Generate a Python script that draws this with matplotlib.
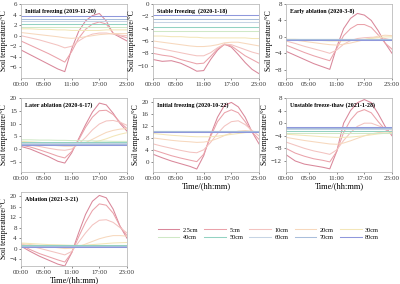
import matplotlib
matplotlib.use("Agg")
import matplotlib.pyplot as plt

plt.rcParams["font.family"] = ["Liberation Serif", "DejaVu Serif"]

hours = [0, 2, 4, 6, 8, 9.5, 11, 12.5, 14, 15.5, 17, 18.5, 20, 21.5, 23]
depths = ["2.5cm", "5cm", "10cm", "20cm", "30cm", "40cm", "50cm", "60cm", "70cm", "80cm"]
colors = ["#d9879a", "#eaa2aa", "#f3c3c0", "#f7d8bd", "#f3e6b8",
          "#cfe8c6", "#93d2c2", "#c6d4e4", "#a9bedb", "#8f98dc"]

titles = ["Initial freezing (2019-11-20)", "Stable freezing  (2020-1-18)",
          "Early ablation (2020-3-8)", "Later ablation (2020-6-17)",
          "Initial freezing (2020-10-22)", "Unstable freeze-thaw (2021-1-28)",
          "Ablation (2021-3-21)"]

init_freeze_2019 = [
    [-2.7, -3.6, -4.5, -5.4, -6.3, -6.8, -2.5, 0.8, 2.8, 3.8, 4.2, 2.8, 0.4, -0.3, -1.0],
    [-1.0, -1.8, -2.6, -3.4, -4.3, -5.0, -3.0, -0.5, 1.2, 2.2, 2.6, 2.2, 0.5, 0.0, -0.4],
    [0.0, -0.4, -0.8, -1.3, -1.8, -2.3, -2.0, -1.0, -0.2, 0.3, 0.5, 0.5, 0.3, 0.1, 0.0],
    [0.6, 0.4, 0.2, 0.0, -0.2, -0.4, -0.5, -0.4, -0.2, 0.0, 0.2, 0.3, 0.4, 0.4, 0.4],
    [1.3, 1.3, 1.2, 1.2, 1.1, 1.1, 1.0, 1.0, 1.0, 1.0, 1.0, 1.1, 1.1, 1.1, 1.1],
    [1.7, 1.7, 1.7, 1.7, 1.7, 1.7, 1.7, 1.7, 1.7, 1.7, 1.7, 1.7, 1.7, 1.7, 1.7],
    [2.3, 2.3, 2.3, 2.3, 2.3, 2.3, 2.3, 2.3, 2.3, 2.3, 2.3, 2.3, 2.3, 2.3, 2.3],
    [2.7, 2.7, 2.7, 2.7, 2.7, 2.7, 2.7, 2.7, 2.7, 2.7, 2.7, 2.7, 2.7, 2.7, 2.7],
    [3.2, 3.2, 3.2, 3.2, 3.2, 3.2, 3.2, 3.2, 3.2, 3.2, 3.2, 3.2, 3.2, 3.2, 3.2],
    [3.8, 3.8, 3.8, 3.8, 3.8, 3.8, 3.8, 3.8, 3.8, 3.8, 3.8, 3.8, 3.8, 3.8, 3.8],
]
stable_freeze_2020 = [
    [-9.0, -9.3, -9.2, -9.6, -10.3, -10.9, -10.8, -9.0, -7.5, -6.5, -7.0, -8.2, -9.5, -10.6, -11.3],
    [-8.0, -8.3, -8.5, -9.0, -9.4, -9.7, -9.6, -8.5, -7.3, -6.6, -6.8, -7.6, -8.4, -9.0, -9.6],
    [-7.0, -7.3, -7.6, -7.9, -8.2, -8.4, -8.4, -7.9, -7.1, -6.5, -6.6, -7.0, -7.4, -7.8, -8.1],
    [-6.0, -6.2, -6.4, -6.6, -6.8, -6.9, -6.9, -6.8, -6.6, -6.3, -6.2, -6.2, -6.4, -6.6, -6.8],
    [-5.2, -5.2, -5.3, -5.3, -5.4, -5.4, -5.5, -5.5, -5.5, -5.5, -5.5, -5.5, -5.5, -5.6, -5.6],
    [-4.4, -4.4, -4.4, -4.4, -4.4, -4.4, -4.4, -4.4, -4.4, -4.4, -4.4, -4.4, -4.4, -4.4, -4.4],
    [-3.7, -3.7, -3.7, -3.7, -3.7, -3.7, -3.7, -3.7, -3.7, -3.7, -3.7, -3.7, -3.7, -3.7, -3.7],
    [-3.0, -3.0, -3.0, -3.0, -3.0, -3.0, -3.0, -3.0, -3.0, -3.0, -3.0, -3.0, -3.0, -3.0, -3.0],
    [-2.4, -2.4, -2.4, -2.4, -2.4, -2.4, -2.4, -2.4, -2.4, -2.4, -2.4, -2.4, -2.4, -2.4, -2.4],
    [-1.8, -1.8, -1.8, -1.8, -1.8, -1.8, -1.8, -1.8, -1.8, -1.8, -1.8, -1.8, -1.8, -1.8, -1.8],
]
early_ablation_2020 = [
    [-3.5, -4.5, -5.5, -6.5, -7.3, -7.9, -2.5, 2.0, 4.5, 5.7, 5.3, 4.0, 1.5, -1.5, -4.0],
    [-2.0, -2.9, -3.8, -4.6, -5.3, -5.8, -2.8, 0.3, 2.0, 3.0, 3.0, 2.3, 0.5, -1.5, -3.0],
    [-1.0, -1.6, -2.3, -2.9, -3.5, -4.0, -3.2, -1.8, -0.9, -0.4, -0.2, -0.1, -0.1, -0.4, -0.8],
    [-0.6, -0.8, -1.1, -1.4, -1.7, -1.9, -2.0, -1.8, -1.5, -1.1, -0.7, -0.3, 0.2, 0.4, 0.3],
    [-0.6, -0.6, -0.7, -0.8, -0.9, -1.0, -1.0, -1.0, -0.9, -0.8, -0.6, -0.4, -0.2, 0.0, 0.0],
    [-0.5, -0.5, -0.5, -0.5, -0.5, -0.5, -0.5, -0.5, -0.5, -0.5, -0.5, -0.5, -0.5, -0.5, -0.5],
    [-0.55, -0.55, -0.55, -0.55, -0.55, -0.55, -0.55, -0.55, -0.55, -0.55, -0.55, -0.55, -0.55, -0.55, -0.55],
    [-0.6, -0.6, -0.6, -0.6, -0.6, -0.6, -0.6, -0.6, -0.6, -0.6, -0.6, -0.6, -0.6, -0.6, -0.6],
    [-0.6, -0.6, -0.6, -0.6, -0.6, -0.6, -0.6, -0.6, -0.6, -0.6, -0.6, -0.6, -0.6, -0.6, -0.6],
    [-0.65, -0.65, -0.65, -0.65, -0.65, -0.65, -0.65, -0.65, -0.65, -0.65, -0.65, -0.65, -0.65, -0.65, -0.65],
]
later_ablation_2020 = [
    [1.0, 0.0, -1.5, -3.0, -4.8, -5.5, -1.5, 4.0, 9.5, 14.5, 18.0, 17.3, 14.0, 10.0, 7.0],
    [1.5, 0.8, -0.3, -1.5, -2.8, -3.5, -1.0, 3.5, 8.5, 12.5, 15.0, 15.2, 13.5, 10.5, 8.0],
    [2.0, 1.5, 1.0, 0.3, -0.3, -0.5, 0.0, 2.0, 4.5, 7.5, 9.8, 11.0, 11.2, 10.5, 9.3],
    [2.5, 2.2, 1.9, 1.6, 1.3, 1.1, 1.1, 1.5, 2.5, 3.8, 5.2, 6.5, 7.3, 7.8, 8.0],
    [3.0, 2.8, 2.6, 2.4, 2.2, 2.1, 2.0, 2.0, 2.2, 2.6, 3.2, 4.0, 5.0, 5.8, 6.4],
    [3.6, 3.6, 3.5, 3.5, 3.4, 3.4, 3.3, 3.3, 3.2, 3.2, 3.1, 3.1, 3.0, 3.0, 3.0],
    [2.6, 2.6, 2.6, 2.6, 2.6, 2.6, 2.6, 2.6, 2.6, 2.6, 2.6, 2.6, 2.6, 2.6, 2.6],
    [2.3, 2.3, 2.3, 2.3, 2.3, 2.3, 2.3, 2.3, 2.3, 2.3, 2.3, 2.3, 2.3, 2.3, 2.3],
    [2.0, 2.0, 2.0, 2.0, 2.0, 2.0, 2.0, 2.0, 2.0, 2.0, 2.0, 2.0, 2.0, 2.0, 2.0],
    [1.7, 1.7, 1.7, 1.7, 1.7, 1.7, 1.7, 1.7, 1.7, 1.7, 1.7, 1.7, 1.7, 1.7, 1.7],
]
init_freeze_2020 = [
    [2.5, 1.3, 0.2, -0.7, -1.6, -2.5, 2.0, 9.0, 15.0, 19.0, 20.0, 18.5, 15.0, 10.0, 6.0],
    [4.0, 3.0, 2.0, 1.2, 0.5, 0.0, 2.5, 8.5, 13.5, 16.5, 17.5, 16.5, 13.5, 10.0, 7.5],
    [6.0, 5.2, 4.5, 3.8, 3.2, 3.0, 4.0, 6.5, 9.5, 12.0, 13.5, 13.8, 12.5, 10.5, 8.7],
    [8.0, 7.6, 7.2, 6.9, 6.7, 6.5, 6.6, 7.0, 7.8, 8.8, 9.7, 10.3, 10.5, 10.3, 10.0],
    [9.5, 9.2, 8.9, 8.7, 8.5, 8.4, 8.4, 8.4, 8.6, 8.9, 9.2, 9.5, 9.8, 10.0, 10.0],
    [10.5, 10.5, 10.5, 10.5, 10.5, 10.5, 10.5, 10.5, 10.5, 10.5, 10.5, 10.5, 10.5, 10.5, 10.5],
    [10.3, 10.3, 10.3, 10.3, 10.3, 10.3, 10.3, 10.3, 10.3, 10.3, 10.3, 10.3, 10.3, 10.3, 10.3],
    [10.2, 10.2, 10.2, 10.2, 10.2, 10.2, 10.2, 10.2, 10.2, 10.2, 10.2, 10.2, 10.2, 10.2, 10.2],
    [10.4, 10.4, 10.4, 10.4, 10.4, 10.4, 10.4, 10.4, 10.4, 10.4, 10.4, 10.4, 10.4, 10.4, 10.4],
    [10.1, 10.1, 10.1, 10.1, 10.1, 10.1, 10.1, 10.1, 10.1, 10.1, 10.1, 10.1, 10.1, 10.1, 10.1],
]
unstable_2021 = [
    [-10.0, -12.0, -13.0, -13.5, -14.0, -14.5, -9.0, 0.0, 4.0, 6.5, 7.5, 6.5, 3.0, -1.0, -4.0],
    [-8.0, -9.5, -10.5, -11.3, -11.8, -12.3, -9.0, -3.0, 1.0, 3.5, 4.3, 3.3, 0.5, -2.0, -3.2],
    [-6.0, -7.0, -8.0, -8.8, -9.4, -9.9, -8.5, -5.5, -3.0, -1.0, 0.0, 0.0, -0.8, -1.6, -2.2],
    [-4.5, -5.0, -5.5, -5.9, -6.3, -6.6, -6.7, -6.3, -5.6, -4.8, -4.0, -3.4, -3.0, -2.8, -2.7],
    [-3.5, -3.7, -3.9, -4.1, -4.3, -4.4, -4.5, -4.5, -4.4, -4.2, -4.0, -3.7, -3.4, -3.2, -3.0],
    [-3.0, -3.0, -3.0, -3.0, -3.0, -3.0, -3.0, -3.0, -3.0, -3.0, -3.0, -3.0, -3.0, -3.0, -3.0],
    [-2.5, -2.5, -2.5, -2.5, -2.5, -2.5, -2.5, -2.5, -2.5, -2.5, -2.5, -2.5, -2.5, -2.5, -2.5],
    [-2.0, -2.0, -2.0, -2.0, -2.0, -2.0, -2.0, -2.0, -2.0, -2.0, -2.0, -2.0, -2.0, -2.0, -2.0],
    [-1.6, -1.6, -1.6, -1.6, -1.6, -1.6, -1.6, -1.6, -1.6, -1.6, -1.6, -1.6, -1.6, -1.6, -1.6],
    [-1.2, -1.2, -1.2, -1.2, -1.2, -1.2, -1.2, -1.2, -1.2, -1.2, -1.2, -1.2, -1.2, -1.2, -1.2],
]
ablation_2021 = [
    [1.0, -1.0, -2.8, -4.3, -5.8, -6.5, -1.5, 6.0, 13.0, 18.0, 20.2, 19.3, 15.0, 8.5, 4.0],
    [1.5, -0.3, -1.8, -3.0, -4.2, -5.0, -1.5, 4.5, 10.0, 14.5, 17.0, 16.5, 13.5, 8.5, 5.0],
    [1.8, 1.0, 0.2, -0.7, -1.6, -2.3, -1.0, 2.5, 6.0, 9.0, 10.8, 11.0, 10.0, 8.0, 6.0],
    [2.0, 1.6, 1.2, 0.8, 0.4, 0.1, 0.2, 0.8, 1.8, 2.8, 3.8, 4.5, 5.0, 5.0, 4.8],
    [2.2, 2.0, 1.8, 1.6, 1.5, 1.4, 1.3, 1.3, 1.4, 1.6, 1.8, 2.0, 2.2, 2.3, 2.4],
    [1.5, 1.5, 1.5, 1.5, 1.5, 1.5, 1.5, 1.5, 1.5, 1.5, 1.5, 1.5, 1.5, 1.5, 1.5],
    [1.3, 1.3, 1.3, 1.3, 1.3, 1.3, 1.3, 1.3, 1.3, 1.3, 1.3, 1.3, 1.3, 1.3, 1.3],
    [1.1, 1.1, 1.1, 1.1, 1.1, 1.1, 1.1, 1.1, 1.1, 1.1, 1.1, 1.1, 1.1, 1.1, 1.1],
    [0.9, 0.9, 0.9, 0.9, 0.9, 0.9, 0.9, 0.9, 0.9, 0.9, 0.9, 0.9, 0.9, 0.9, 0.9],
    [0.8, 0.8, 0.8, 0.8, 0.8, 0.8, 0.8, 0.8, 0.8, 0.8, 0.8, 0.8, 0.8, 0.8, 0.8],
]

x_ticks = [0, 5, 11, 17, 23]
x_labels = ["00:00", "05:00", "11:00", "17:00", "23:00"]

panels = [
    (init_freeze_2019, [-6, -4, -2, 0, 2, 4, 6], (-8, 6)),
    (stable_freeze_2020, [-10, -8, -6, -4, -2, 0], (-12, 0)),
    (early_ablation_2020, [-8, -4, 0, 4, 8], (-10, 8)),
    (later_ablation_2020, [-5, 0, 5, 10, 15, 20], (-9, 20)),
    (init_freeze_2020, [0, 4, 8, 12, 16, 20], (-3.5, 21.5)),
    (unstable_2021, [-12, -8, -4, 0, 4, 8], (-15.5, 8)),
    (ablation_2021, [-4, 0, 4, 8, 12, 16, 20], (-6.5, 21.5)),
]

fig = plt.figure(figsize=(4.0, 2.84), dpi=100)

lefts = [0.0525, 0.3825, 0.715]
bottoms = [0.7254, 0.3944, 0.0634]
W, H = 0.265, 0.2606

line_handles = None
for i, (data, yt, yl) in enumerate(panels):
    row, col = i // 3, i % 3
    ax = fig.add_axes([lefts[col], bottoms[row], W, H])
    hs = []
    for d in range(len(depths)):
        h, = ax.plot(hours, data[d], color=colors[d], lw=0.75, label=depths[d])
        hs.append(h)
    line_handles = hs
    ax.set_xlim(0, 23)
    ax.set_ylim(*yl)
    ax.set_xticks(x_ticks)
    ax.set_xticklabels(x_labels)
    ax.set_yticks(yt)
    ax.tick_params(labelsize=5, length=1.5, width=0.4, pad=1.5, colors="#333333")
    for s in ax.spines.values():
        s.set_color("#bbbbbb")
        s.set_linewidth(0.6)
    ax.set_ylabel("Soil temperature/\u00b0C", fontsize=5.5, labelpad=1)
    ax.text(0.04, 0.9, titles[i], transform=ax.transAxes, fontsize=4.3,
            fontweight="bold", va="center", ha="left")
    if i in (4, 5, 6):
        ax.set_xlabel("Time/(hh:mm)", fontsize=6, labelpad=1)

# legend is filled column by column, so interleave to get 2.5..30 on the first row
order = [0, 5, 1, 6, 2, 7, 3, 8, 4, 9]
fig.legend([line_handles[k] for k in order], [depths[k] for k in order],
           loc="center", bbox_to_anchor=(0.67, 0.178),
           ncol=5, frameon=False, fontsize=4.5, handlelength=3.5,
           columnspacing=1.0, handletextpad=0.5, labelspacing=0.3)

fig.savefig("out.png", dpi=100)
